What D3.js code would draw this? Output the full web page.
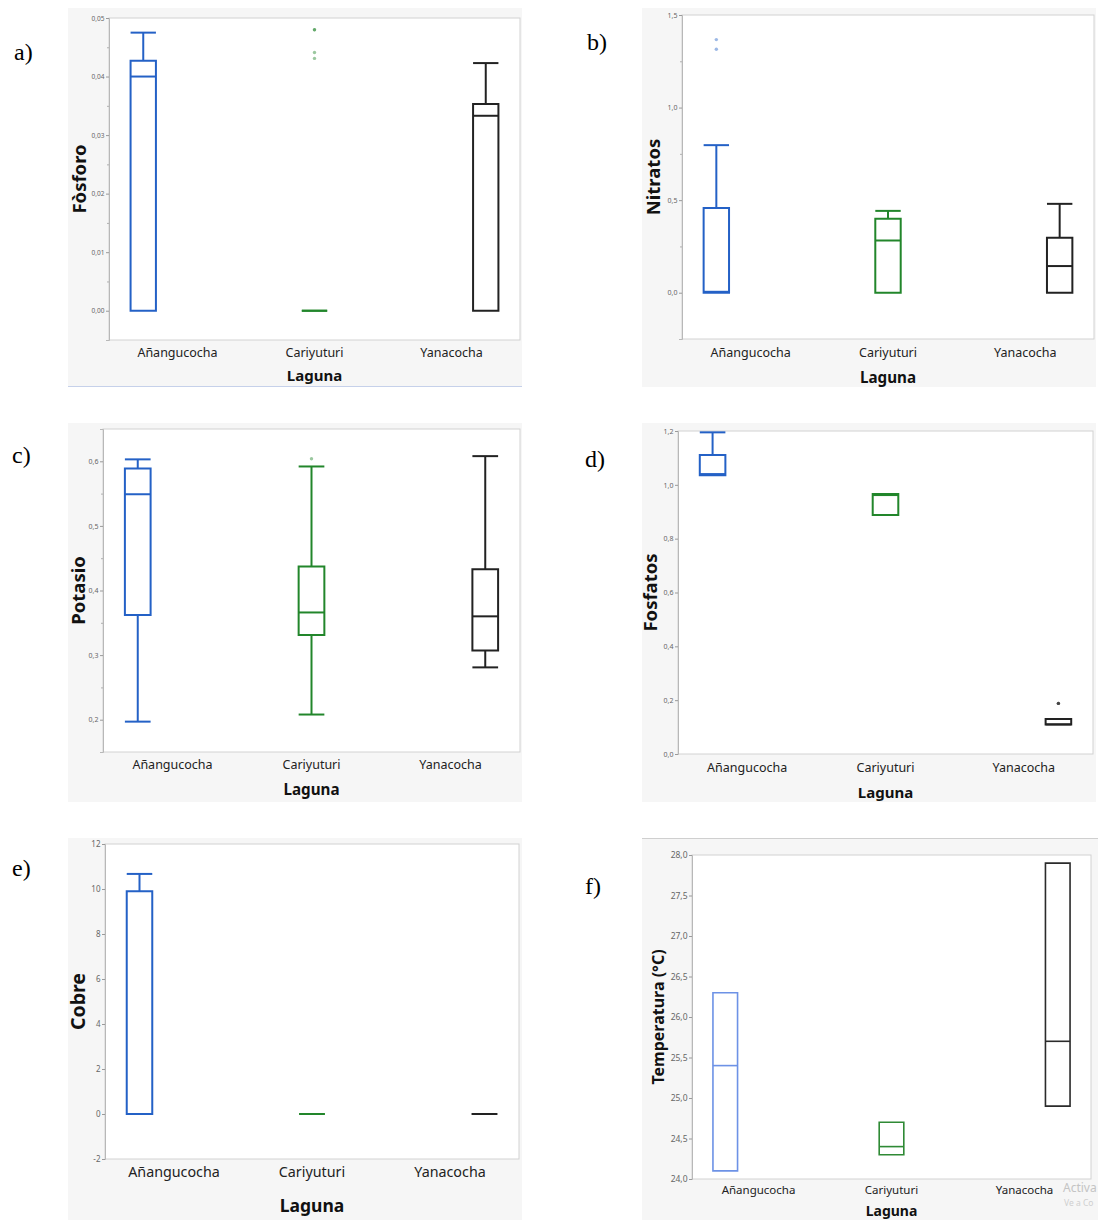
<!DOCTYPE html>
<html>
<head>
<meta charset="utf-8">
<script src="https://cdn.jsdelivr.net/npm/d3@7"></script>
<style>
  body { margin: 0; background: #fff; }
  svg text { font-family: "Segoe UI", "Noto Sans", "Open Sans", sans-serif; }
  svg text.letter { font-family: "Liberation Serif", "Times New Roman", serif; }
</style>
</head>
<body>
<svg id="chart" width="1098" height="1220"></svg>
<script>
// Datos: cada caja es [min, q1, mediana, q3, max] por laguna
const lagunas = ["Añangucocha", "Cariyuturi", "Yanacocha"];

const fosforo = [[0, 0, 0.0400, 0.0427, 0.0475], [0, 0, 0, 0, 0], [0, 0, 0.0333, 0.0353, 0.0423]];
const fosforoAtipicos = [[], [0.0480, 0.0480, 0.0441, 0.0431], []];
const fosforoTicks = [0, 0.01, 0.02, 0.03, 0.04, 0.05];

const nitratos = [[0, 0, 0.005, 0.457, 0.797], [0, 0, 0.282, 0.399, 0.442], [0, 0, 0.144, 0.297, 0.480]];
const nitratosAtipicos = [[1.367, 1.315], [], []];
const nitratosTicks = [0, 0.5, 1.0, 1.5];

const potasio = [[0.197, 0.362, 0.549, 0.589, 0.603], [0.208, 0.331, 0.366, 0.437, 0.592], [0.281, 0.307, 0.360, 0.433, 0.608]];
const potasioAtipicos = [[], [0.604], []];
const potasioTicks = [0.2, 0.3, 0.4, 0.5, 0.6];

const fosfatos = [[1.036, 1.036, 1.040, 1.111, 1.195], [0.888, 0.888, 0.962, 0.966, 0.966], [0.110, 0.110, 0.110, 0.130, 0.130]];
const fosfatosAtipicos = [[], [], [0.188, 0.188, 0.188]];
const fosfatosTicks = [0, 0.2, 0.4, 0.6, 0.8, 1.0, 1.2];

const cobre = [[0, 0, 0, 9.9, 10.67], [0, 0, 0, 0, 0], [0, 0, 0, 0, 0]];
const cobreAtipicos = [[], [], []];
const cobreTicks = [-2, 0, 2, 4, 6, 8, 10, 12];

const temperatura = [[24.1, 24.1, 25.4, 26.3, 26.3], [24.3, 24.3, 24.4, 24.7, 24.7], [24.9, 24.9, 25.7, 27.9, 27.9]];
const temperaturaAtipicos = [[], [], []];
const temperaturaTicks = [24.0, 24.5, 25.0, 25.5, 26.0, 26.5, 27.0, 27.5, 28.0];

const es = d3.formatLocale({ decimal: ",", thousands: ".", grouping: [3], currency: ["", ""], minus: "-" });

const colores = ["#2461c6", "#22862b", "#222222"];
const coloresF = ["#6d92e6", "#2f8a35", "#2b2b2b"];

// Paneles (solo posiciones y estilos)
const panels = [
  { letter: "a)", lx: 14, ly: 60, title: "Fòsforo", data: fosforo, out: fosforoAtipicos, ticks: fosforoTicks,
    domain: [-0.005, 0.05], minor: 0.005, fmt: es.format(".2f"),
    bg: [68, 8, 522, 387], frame: [109, 18, 520, 340], tickFont: 6.5, catFont: 12.5, labFont: 15, titleFont: 18.5,
    catDy: 12, labDy: 35, titleX: 78, sw: 2, cols: colores, bottomLine: true },
  { letter: "b)", lx: 587, ly: 50, title: "Nitratos", data: nitratos, out: nitratosAtipicos, ticks: nitratosTicks,
    domain: [-0.25, 1.5], minor: 0.25, fmt: es.format(".1f"),
    bg: [642, 8, 1096, 387], frame: [682, 15, 1094, 339], tickFont: 7, catFont: 12.5, labFont: 15.2, titleFont: 18.5,
    catDy: 13, labDy: 38, titleX: 652, sw: 2, cols: colores },
  { letter: "c)", lx: 12, ly: 463, title: "Potasio", data: potasio, out: potasioAtipicos, ticks: potasioTicks,
    domain: [0.15, 0.65], minor: 0.05, fmt: es.format(".1f"),
    bg: [68, 423, 522, 802], frame: [103, 429, 520, 752], tickFont: 7, catFont: 12.5, labFont: 15.2, titleFont: 18.5,
    catDy: 12, labDy: 37, titleX: 77, sw: 2, cols: colores },
  { letter: "d)", lx: 585, ly: 467, title: "Fosfatos", data: fosfatos, out: fosfatosAtipicos, ticks: fosfatosTicks,
    domain: [0, 1.2], minor: null, fmt: es.format(".1f"),
    bg: [642, 423, 1096, 802], frame: [678, 431, 1093, 754], tickFont: 7, catFont: 12.5, labFont: 15, titleFont: 18.5,
    catDy: 13, labDy: 38, titleX: 649, sw: 2, cols: colores },
  { letter: "e)", lx: 12, ly: 876, title: "Cobre", data: cobre, out: cobreAtipicos, ticks: cobreTicks,
    domain: [-2, 12], minor: null, fmt: es.format("d"),
    bg: [68, 838, 522, 1220], frame: [105, 844, 519, 1159], tickFont: 8, catFont: 14.3, labFont: 17.5, titleFont: 19.5,
    catDy: 12, labDy: 46, titleX: 77, sw: 2, cols: colores },
  { letter: "f)", lx: 585, ly: 894, title: "Temperatura (°C)", data: temperatura, out: temperaturaAtipicos, ticks: temperaturaTicks,
    domain: [24, 28], minor: null, fmt: es.format(".1f"),
    bg: [642, 838, 1098, 1220], frame: [692, 855, 1091, 1179], tickFont: 8.5, catFont: 11.5, labFont: 14, titleFont: 16,
    catDy: 10, labDy: 31, titleX: 658, sw: 1.6, cols: coloresF, topLine: true, watermark: true }
];

const svg = d3.select("#chart");

panels.forEach(drawPanel);

function drawPanel(p) {
  const g = svg.append("g");
  const [bx0, by0, bx1, by1] = p.bg;
  const [fx0, fy0, fx1, fy1] = p.frame;

  // fondo gris del panel
  g.append("rect")
    .attr("x", bx0).attr("y", by0)
    .attr("width", bx1 - bx0).attr("height", by1 - by0)
    .attr("fill", "#f6f6f6");

  if (p.bottomLine) {
    g.append("line")
      .attr("x1", bx0).attr("x2", bx1).attr("y1", by1 - 0.5).attr("y2", by1 - 0.5)
      .attr("stroke", "#c6d1ea");
  }
  if (p.topLine) {
    g.append("line")
      .attr("x1", bx0).attr("x2", bx1).attr("y1", by0 + 0.5).attr("y2", by0 + 0.5)
      .attr("stroke", "#cfcfcf");
  }

  // area de grafico
  g.append("rect")
    .attr("x", fx0).attr("y", fy0)
    .attr("width", fx1 - fx0).attr("height", fy1 - fy0)
    .attr("fill", "#fff")
    .attr("stroke", "#d2d2d2");

  const x = d3.scaleBand().domain(lagunas).range([fx0, fx1]);
  // desplazamiento de cada laguna dentro de su banda (como en JMP)
  const dodge = d3.scaleBand().domain(lagunas)
    .range([-x.bandwidth() * 0.375, x.bandwidth() * 0.375]);
  const y = d3.scaleLinear().domain(p.domain).range([fy1, fy0]);

  // eje Y
  const ax = g.append("g")
    .attr("transform", `translate(${fx0},0)`)
    .call(d3.axisLeft(y).tickValues(p.ticks).tickFormat(p.fmt).tickSize(3).tickPadding(1.5))
    .attr("font-family", null)
    .attr("font-size", null);
  ax.select(".domain").attr("stroke", "#b8b8b8");
  ax.selectAll(".tick line").attr("stroke", "#9a9a9a");
  ax.selectAll(".tick text")
    .attr("fill", "#666")
    .style("font-size", p.tickFont + "px");

  if (p.minor) {
    const minorTicks = d3.range(p.domain[0], p.domain[1], p.minor)
      .filter(v => !p.ticks.some(t => Math.abs(t - v) < p.minor / 10) && v > p.domain[0] + p.minor / 10);
    g.append("g")
      .attr("transform", `translate(${fx0},0)`)
      .call(d3.axisLeft(y).tickValues(minorTicks).tickFormat("").tickSize(2))
      .call(s => s.select(".domain").remove())
      .selectAll(".tick line").attr("stroke", "#b0b0b0");
  }

  // cajas
  const bw = dodge.bandwidth() * 0.74;
  lagunas.forEach((lag, i) => {
    const [mn, q1, med, q3, mx] = p.data[i];
    const cx = x(lag) + x.bandwidth() / 2 + dodge(lag) + dodge.bandwidth() / 2;
    const col = p.cols[i];
    const bg = g.append("g")
      .attr("stroke", col)
      .attr("stroke-width", p.sw)
      .attr("fill", "none");

    if (mx > q3) {
      bg.append("line").attr("x1", cx).attr("x2", cx).attr("y1", y(q3)).attr("y2", y(mx));
      bg.append("line").attr("x1", cx - bw / 2).attr("x2", cx + bw / 2).attr("y1", y(mx)).attr("y2", y(mx));
    }
    if (mn < q1) {
      bg.append("line").attr("x1", cx).attr("x2", cx).attr("y1", y(q1)).attr("y2", y(mn));
      bg.append("line").attr("x1", cx - bw / 2).attr("x2", cx + bw / 2).attr("y1", y(mn)).attr("y2", y(mn));
    }
    bg.append("path")
      .attr("d", `M${cx - bw / 2},${y(q3)}H${cx + bw / 2}V${y(q1)}H${cx - bw / 2}Z`);
    bg.append("line")
      .attr("x1", cx - bw / 2).attr("x2", cx + bw / 2)
      .attr("y1", y(med)).attr("y2", y(med));

    // valores atipicos
    g.selectAll(null)
      .data(p.out[i])
      .join("circle")
        .attr("cx", cx)
        .attr("cy", d => y(d))
        .attr("r", 1.7)
        .attr("fill", col)
        .attr("fill-opacity", 0.45);
  });

  // etiquetas de categoria
  g.selectAll(null)
    .data(lagunas)
    .join("text")
      .attr("x", d => x(d) + x.bandwidth() / 2)
      .attr("y", fy1 + p.catDy)
      .attr("dominant-baseline", "central")
      .attr("text-anchor", "middle")
      .attr("fill", "#222")
      .style("font-size", p.catFont + "px")
      .text(d => d);

  g.append("text")
    .attr("x", (fx0 + fx1) / 2)
    .attr("y", fy1 + p.labDy)
    .attr("dominant-baseline", "central")
    .attr("text-anchor", "middle")
    .attr("fill", "#111")
    .style("font-size", p.labFont + "px")
    .style("font-weight", "bold")
    .text("Laguna");

  g.append("text")
    .attr("transform", `translate(${p.titleX},${(fy0 + fy1) / 2}) rotate(-90)`)
    .attr("dominant-baseline", "central")
    .attr("text-anchor", "middle")
    .attr("fill", "#111")
    .style("font-size", p.titleFont + "px")
    .style("font-weight", "bold")
    .text(p.title);

  if (p.watermark) {
    g.append("text").attr("x", 1063).attr("y", 1187)
      .attr("dominant-baseline", "central")
      .attr("fill", "#c4c4c4").style("font-size", "12px").text("Activa");
    g.append("text").attr("x", 1064).attr("y", 1202)
      .attr("dominant-baseline", "central")
      .attr("fill", "#cfcfcf").style("font-size", "8.5px").text("Ve a Co");
  }

  // letra del panel
  svg.append("text")
    .attr("class", "letter")
    .attr("x", p.lx).attr("y", p.ly)
    .attr("fill", "#000")
    .style("font-size", "24px")
    .text(p.letter);
}
</script>
</body>
</html>
